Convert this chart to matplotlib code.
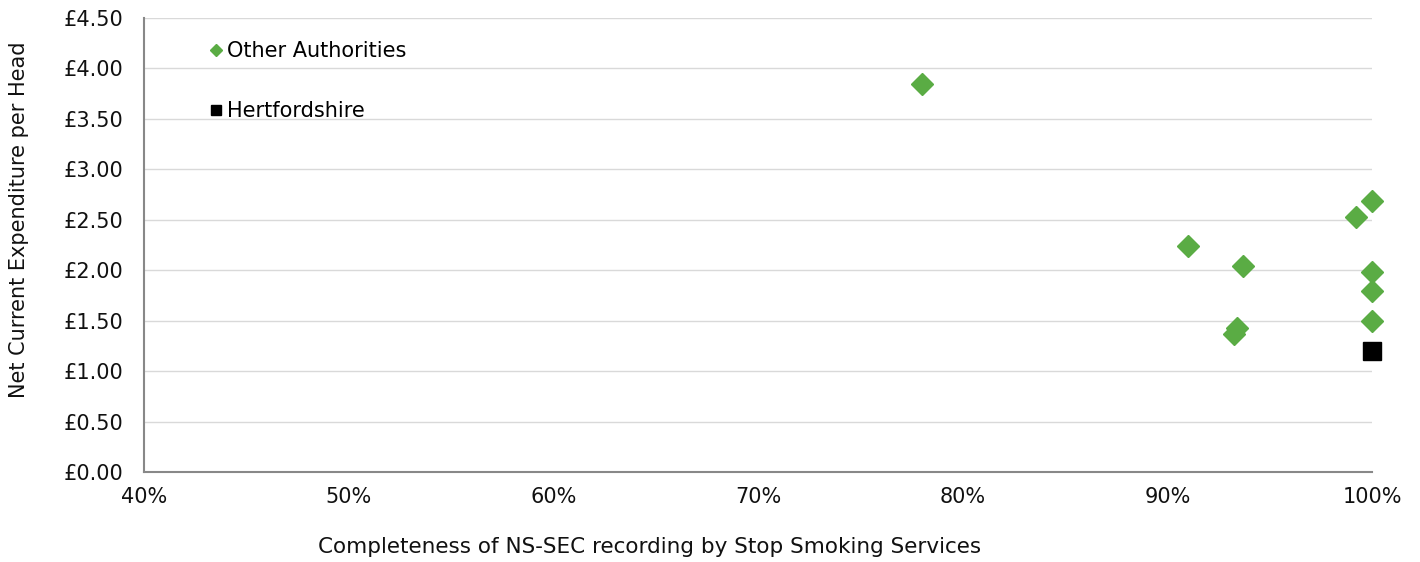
import matplotlib.pyplot as plt
from matplotlib.ticker import FuncFormatter

# completeness of NS-SEC recording (fraction) and spend per head (£)
other_x = [0.78, 0.91, 0.937, 0.934, 0.9325, 0.992, 1.0, 1.0, 1.0, 1.0]
other_y = [3.85, 2.24, 2.04, 1.43, 1.37, 2.53, 2.69, 1.98, 1.79, 1.50]
herts_x = [1.0]
herts_y = [1.20]

x_ticks = [0.4, 0.5, 0.6, 0.7, 0.8, 0.9, 1.0]
y_ticks = [0, 0.5, 1.0, 1.5, 2.0, 2.5, 3.0, 3.5, 4.0, 4.5]

plt.rcParams["font.family"] = ["DejaVu Sans"]
fs = 15

fig = plt.figure(figsize=(14.2, 5.62), dpi=100)
ax = fig.add_axes([0.1014, 0.160, 0.8648, 0.808])

ax.plot(other_x, other_y, linestyle="none", marker="D", markersize=11,
        color="#5aac44", label="Other Authorities", clip_on=False, zorder=3)
ax.plot(herts_x, herts_y, linestyle="none", marker="s", markersize=13,
        color="black", label="Hertfordshire", clip_on=False, zorder=4)

ax.set_xlim(0.4, 1.0)
ax.set_ylim(0, 4.5)
ax.set_xticks(x_ticks)
ax.set_yticks(y_ticks)
ax.xaxis.set_major_formatter(FuncFormatter(lambda v, p: f"{v*100:.0f}%"))
ax.yaxis.set_major_formatter(FuncFormatter(lambda v, p: f"£{v:.2f}"))
ax.tick_params(axis="both", length=0, labelsize=fs, colors="#111111")
ax.tick_params(axis="x", pad=11)
ax.tick_params(axis="y", pad=15)

ax.grid(axis="y", color="#d9d9d9", linewidth=1)
ax.set_axisbelow(True)
for side in ["top", "right"]:
    ax.spines[side].set_visible(False)
for side in ["left", "bottom"]:
    ax.spines[side].set_color("#888888")
    ax.spines[side].set_linewidth(1.5)

ax.set_xlabel("Completeness of NS-SEC recording by Stop Smoking Services",
              fontsize=15.5, color="#111111")
ax.xaxis.set_label_coords(0.412, -0.142)
ax.set_ylabel("Net Current Expenditure per Head", fontsize=fs, color="#111111")
ax.yaxis.set_label_coords(-0.094, 0.555)

ax.legend(loc="upper left", bbox_to_anchor=(0.038, 0.99), frameon=False,
          markerscale=0.55, handlelength=0.6, handletextpad=0.25,
          labelspacing=1.9, fontsize=fs)

plt.savefig("out.png", dpi=100)
